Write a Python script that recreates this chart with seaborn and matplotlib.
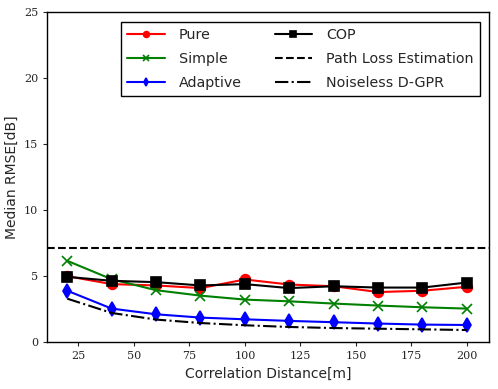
import matplotlib
matplotlib.use("Agg")
import matplotlib.pyplot as plt
import pandas as pd
import seaborn as sns

dist = [20, 40, 60, 80, 100, 120, 140, 160, 180, 200]
pure = [5.0, 4.4, 4.3, 4.1, 4.75, 4.37, 4.24, 3.8, 3.9, 4.2]
simple = [6.16, 4.77, 3.94, 3.53, 3.23, 3.1, 2.93, 2.78, 2.65, 2.55]
adaptive = [3.9, 2.55, 2.12, 1.87, 1.74, 1.62, 1.52, 1.42, 1.34, 1.31]
cop = [4.95, 4.65, 4.55, 4.3, 4.4, 4.1, 4.24, 4.14, 4.14, 4.52]
noiseless = [3.3, 2.22, 1.72, 1.46, 1.29, 1.16, 1.08, 1.03, 0.98, 0.93]
path_loss = 7.1

sns.set_theme(style="ticks")
plt.rcParams.update({
    "font.family": "DejaVu Sans",
    "axes.linewidth": 1.0,
})

fig, ax = plt.subplots(figsize=(4.98, 3.89), dpi=100)

series = [
    ("Pure", pure, "red", "o"),
    ("Simple", simple, "green", "x"),
    ("Adaptive", adaptive, "blue", "d"),
    ("COP", cop, "black", "s"),
]
for name, vals, color, marker in series:
    df = pd.DataFrame({"x": dist, "y": vals})
    sns.lineplot(data=df, x="x", y="y", ax=ax, color=color, marker=marker,
                 markersize=7, linewidth=1.5, markeredgecolor=color,
                 markeredgewidth=1.2, label=name)

ax.axhline(path_loss, color="black", linestyle="--", linewidth=1.5,
           label="Path Loss Estimation")
df = pd.DataFrame({"x": dist, "y": noiseless})
sns.lineplot(data=df, x="x", y="y", ax=ax, color="black", linestyle="-.",
             linewidth=1.5, label="Noiseless D-GPR")

ax.set_xlim(11, 210)
ax.set_ylim(0, 25)
ax.set_xticks([25, 50, 75, 100, 125, 150, 175, 200])
ax.set_yticks([0, 5, 10, 15, 20, 25])
ax.set_xlabel("Correlation Distance[m]", fontsize=10)
ax.set_ylabel("Median RMSE[dB]", fontsize=10)
for lab in ax.get_xticklabels() + ax.get_yticklabels():
    lab.set_family("DejaVu Serif")
    lab.set_fontsize(8)
ax.tick_params(direction="out", length=3, width=0.8, top=False, right=False)
for s in ax.spines.values():
    s.set_visible(True)
    s.set_color("black")

h, l = ax.get_legend_handles_labels()
leg = ax.legend(h, l, ncol=2, loc="upper right", bbox_to_anchor=(0.98, 0.97),
                borderaxespad=0, fontsize=10.3, frameon=True, fancybox=False,
                edgecolor="black", framealpha=1, handlelength=2.6,
                handletextpad=1.0, columnspacing=2.3, markerscale=0.6,
                borderpad=0.45, labelspacing=0.7)
leg.get_frame().set_linewidth(1.0)

fig.subplots_adjust(left=0.095, right=0.982, top=0.97, bottom=0.12)
fig.savefig("out.png", dpi=100)
